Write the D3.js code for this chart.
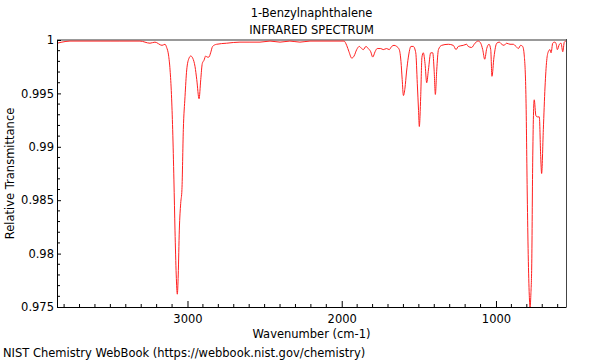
<!DOCTYPE html>
<html>
<head>
<meta charset="utf-8">
<script src="https://cdn.jsdelivr.net/npm/d3@7"></script>
<style>
  body { margin: 0; background: #fff; }
  svg { display: block; font-family: "DejaVu Sans", sans-serif; }
</style>
</head>
<body>
<svg id="chart" width="600" height="360"></svg>
<script>
// ---- Data ----
const title = "1-Benzylnaphthalene";
const subtitle = "INFRARED SPECTRUM";
const xLabel = "Wavenumber (cm-1)";
const yLabel = "Relative Transmittance";
const footer = "NIST Chemistry WebBook (https://webbook.nist.gov/chemistry)";

const xDomain = [3846, 546];
const yDomain = [0.975, 1];
const xTickValues = [3000, 2000, 1000];
const yTickValues = [0.975, 0.98, 0.985, 0.99, 0.995, 1];
const yTickLabels = ["0.975", "0.98", "0.985", "0.99", "0.995", "1"];

const wavenumber = [
  3846, 3814, 3762, 3697, 3632, 3567, 3502, 3438, 3373, 3308, 3243, 3211, 3165, 3146, 3135, 3123,
  3113, 3104, 3096, 3088, 3081, 3073, 3066, 3060, 3053, 3044, 3036, 3027, 3016, 3005, 2990, 2979,
  2966, 2951, 2940, 2925, 2914, 2904, 2893, 2882, 2872, 2861, 2850, 2837, 2811, 2746, 2660, 2595,
  2530, 2465, 2400, 2336, 2271, 2206, 2141, 2076, 2011, 1985, 1968, 1953, 1935, 1920, 1903, 1886,
  1871, 1860, 1843, 1828, 1812, 1799, 1784, 1770, 1747, 1731, 1709, 1692, 1676, 1661, 1644, 1627,
  1616, 1608, 1600, 1590, 1580, 1568, 1551, 1536, 1520, 1510, 1502, 1497, 1488, 1480, 1471, 1460,
  1449, 1438, 1423, 1410, 1401, 1393, 1384, 1373, 1352, 1309, 1277, 1259, 1244, 1212, 1190, 1180,
  1158, 1136, 1115, 1099, 1086, 1073, 1060, 1045, 1034, 1026, 1013, 995, 978, 963, 948, 931,
  909, 888, 870, 855, 840, 827, 817, 806, 797, 791, 784, 779, 774, 768, 762, 752,
  741, 730, 719, 710, 704, 693, 682, 671, 661, 650, 643, 632, 622, 611, 602, 589,
  578, 567, 557, 548
];
const transmittance = [
  0.9997, 0.9998, 0.9999, 0.9999, 0.9999, 0.9999, 0.9999, 0.9999, 0.9999, 0.9999, 0.9997, 0.9998, 0.9995, 0.9996, 0.9993, 0.9986,
  0.9972, 0.9949, 0.9916, 0.9869, 0.9822, 0.9780, 0.9762, 0.9780, 0.9822, 0.9847, 0.9860, 0.9916, 0.9947, 0.9972, 0.9983, 0.9985,
  0.9983, 0.9975, 0.9963, 0.9945, 0.9963, 0.9978, 0.9981, 0.9985, 0.9984, 0.9984, 0.9988, 0.9994, 0.9996, 0.9997, 0.9998, 0.9998,
  0.9998, 0.9999, 0.9998, 0.9999, 0.9998, 0.9999, 0.9999, 0.9999, 0.9999, 0.9999, 0.9995, 0.9989, 0.9983, 0.9985, 0.9991, 0.9994,
  0.9992, 0.9991, 0.9994, 0.9992, 0.9989, 0.9984, 0.9989, 0.9992, 0.9992, 0.9991, 0.9992, 0.9991, 0.9994, 0.9995, 0.9994, 0.9991,
  0.9980, 0.9963, 0.9948, 0.9955, 0.9970, 0.9984, 0.9994, 0.9994, 0.9988, 0.9959, 0.9934, 0.9919, 0.9947, 0.9984, 0.9988, 0.9978,
  0.9960, 0.9972, 0.9988, 0.9988, 0.9972, 0.9949, 0.9972, 0.9991, 0.9995, 0.9996, 0.9995, 0.9991, 0.9994, 0.9995, 0.9996, 0.9994,
  0.9993, 0.9997, 0.9999, 0.9997, 0.9991, 0.9982, 0.9992, 0.9996, 0.9991, 0.9966, 0.9984, 0.9997, 0.9998, 0.9996, 0.9995, 0.9997,
  0.9996, 0.9996, 0.9994, 0.9992, 0.9995, 0.9994, 0.9986, 0.9949, 0.9853, 0.9799, 0.9761, 0.9749, 0.9761, 0.9791, 0.9885, 0.9944,
  0.9929, 0.9928, 0.9928, 0.9891, 0.9875, 0.9916, 0.9956, 0.9981, 0.9989, 0.9991, 0.9988, 0.9997, 0.9998, 0.9997, 0.9991, 0.9996,
  0.9997, 0.9989, 0.9998, 0.9999
];

// ---- Layout ----
const svg = d3.select("#chart");
const plot = { left: 57, right: 566, top: 40, bottom: 307 };
const FS = 11.5;

const x = d3.scaleLinear().domain(xDomain).range([plot.left, plot.right]);
const y = d3.scaleLinear().domain(yDomain).range([plot.bottom, plot.top]);

// Titles
svg.append("text").attr("x", 311.5).attr("y", 17).attr("text-anchor", "middle")
  .attr("font-size", FS).attr("fill", "#000").text(title);
svg.append("text").attr("x", 311.5).attr("y", 34).attr("text-anchor", "middle")
  .attr("font-size", FS).attr("fill", "#000").text(subtitle);

// Frame: top (gray) and right (dark gray)
svg.append("line").attr("x1", plot.left).attr("x2", plot.right)
  .attr("y1", plot.top).attr("y2", plot.top)
  .attr("stroke", "#999").attr("stroke-width", 2);
svg.append("line").attr("x1", plot.right + 0.5).attr("x2", plot.right + 0.5)
  .attr("y1", plot.top - 1).attr("y2", plot.bottom)
  .attr("stroke", "#444").attr("stroke-width", 1);

// Clip
svg.append("defs").append("clipPath").attr("id", "clip")
  .append("rect").attr("x", plot.left).attr("y", plot.top - 1)
  .attr("width", plot.right - plot.left).attr("height", plot.bottom - plot.top + 1);

// Spectrum line
const pts = wavenumber.map((w, i) => [w, transmittance[i]]);
const line = d3.line().x(d => x(d[0])).y(d => y(d[1])).curve(d3.curveMonotoneX);
svg.append("path").datum(pts)
  .attr("clip-path", "url(#clip)")
  .attr("fill", "none").attr("stroke", "#ff2020").attr("stroke-width", 1)
  .attr("stroke-linejoin", "round").attr("d", line);

// X axis (ticks inward)
const xMinor = d3.range(600, 3900, 100).filter(v => v >= xDomain[1] && v <= xDomain[0] && v % 1000 !== 0);
const xAxisG = svg.append("g").attr("transform", `translate(0,${plot.bottom})`);
xAxisG.call(d3.axisBottom(x).tickValues(xTickValues).tickSizeInner(-6).tickSizeOuter(0)
  .tickPadding(8).tickFormat(d3.format("d")));
xAxisG.selectAll(".tick text").attr("font-size", FS).attr("font-family", "DejaVu Sans").attr("fill", "#000");
xAxisG.select(".domain").attr("stroke", "#000");
xAxisG.selectAll(".tick line").attr("stroke", "#000");
xAxisG.selectAll(".minor").data(xMinor).enter().append("line")
  .attr("x1", d => x(d)).attr("x2", d => x(d)).attr("y1", 0).attr("y2", -3)
  .attr("stroke", "#000");

// Y axis (ticks inward)
const yMinor = d3.range(0, 26).map(i => 0.975 + i * 0.001).filter(v => Math.abs((v * 1000) % 5) > 1e-6 && Math.abs((v * 1000) % 5 - 5) > 1e-6);
const yAxisG = svg.append("g").attr("transform", `translate(${plot.left},0)`);
yAxisG.call(d3.axisLeft(y).tickValues(yTickValues).tickSizeInner(-4).tickSizeOuter(0)
  .tickPadding(3).tickFormat((d, i) => yTickLabels[i]));
yAxisG.selectAll(".tick text").attr("font-size", FS).attr("font-family", "DejaVu Sans").attr("fill", "#000");
yAxisG.select(".domain").attr("stroke", "#000");
yAxisG.selectAll(".tick line").attr("stroke", "#000");
yAxisG.selectAll(".minor").data(yMinor).enter().append("line")
  .attr("x1", 0).attr("x2", 3).attr("y1", d => y(d)).attr("y2", d => y(d))
  .attr("stroke", "#000");

// Axis labels
svg.append("text").attr("x", 311.5).attr("y", 337.5).attr("text-anchor", "middle")
  .attr("font-size", FS).attr("fill", "#000").text(xLabel);
svg.append("text").attr("transform", `translate(14,${(plot.top + plot.bottom) / 2}) rotate(-90)`)
  .attr("text-anchor", "middle").attr("font-size", FS).attr("fill", "#000").text(yLabel);

// Footer
svg.append("text").attr("x", 3).attr("y", 357).attr("font-size", FS).attr("fill", "#000").text(footer);
</script>
</body>
</html>
